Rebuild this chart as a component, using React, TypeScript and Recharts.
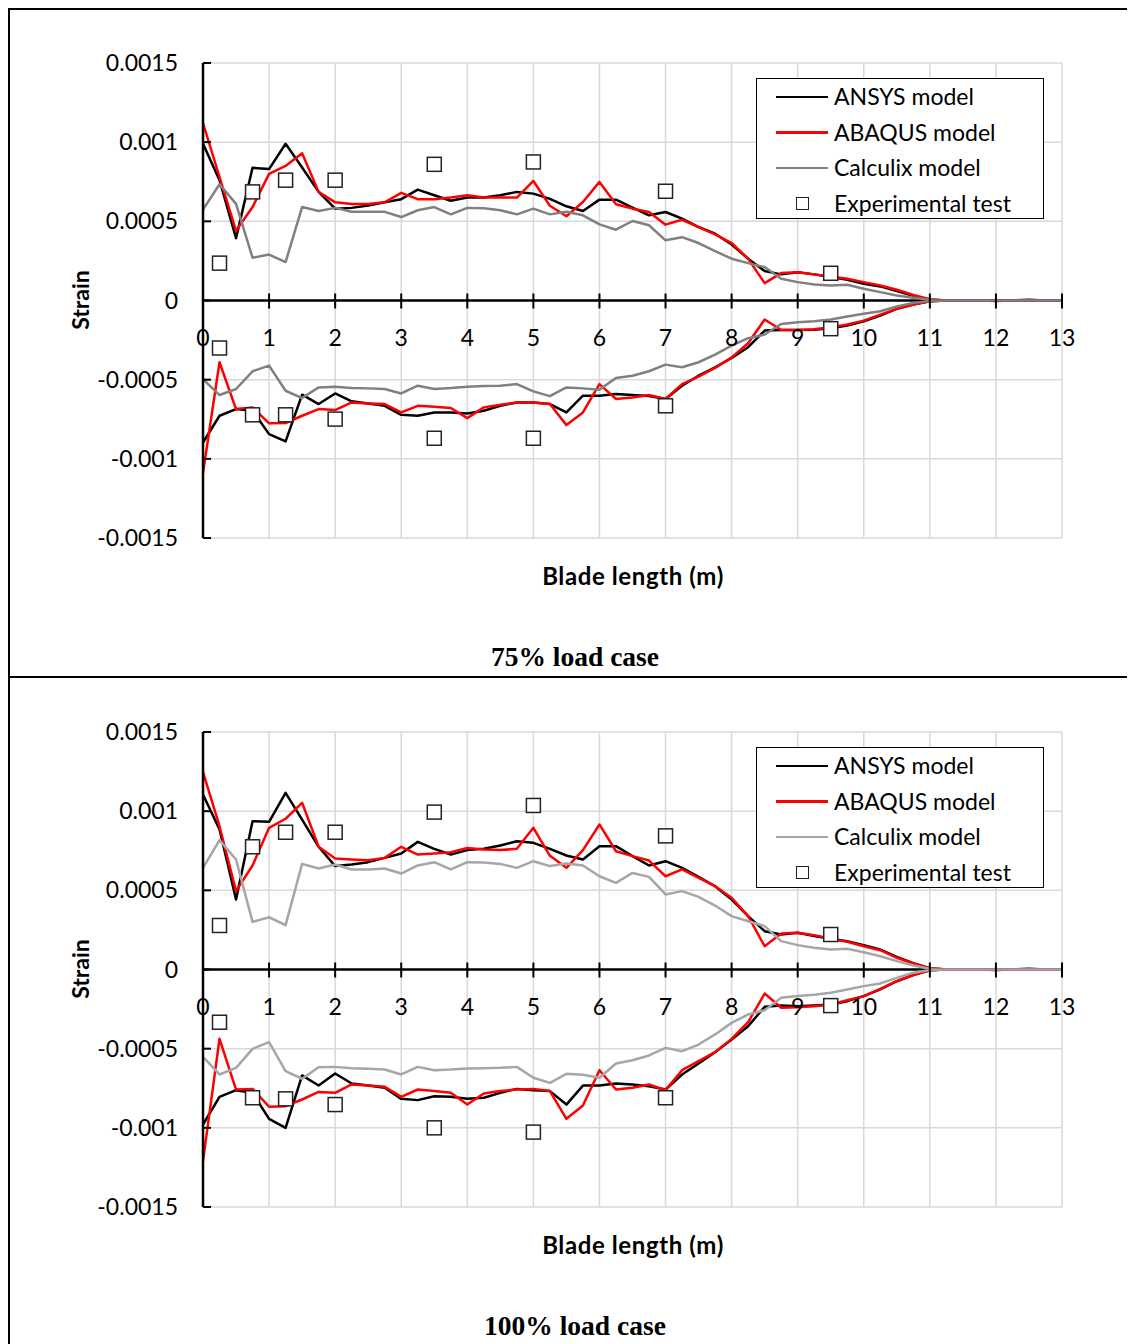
import React from 'react';
import {
  ComposedChart, Line, Scatter, XAxis, YAxis, CartesianGrid, ReferenceLine, Legend,
} from 'recharts';

// blade stations (m)
const xs = [
  0, 0.25, 0.5, 0.75, 1, 1.25, 1.5, 1.75, 2, 2.25, 2.5, 2.75, 3, 3.25, 3.5, 3.75, 4, 4.25,
  4.5, 4.75, 5, 5.25, 5.5, 5.75, 6, 6.25, 6.5, 6.75, 7, 7.25, 7.5, 7.75, 8, 8.25, 8.5, 8.75,
  9, 9.25, 9.5, 9.75, 10, 10.25, 10.5, 10.75, 11, 11.25, 11.5, 11.75, 12, 12.25, 12.5, 12.75, 13,
];

// strain values in microstrain, 75% load case
const ansys75Top = [
  990, 760, 394, 838, 830, 990, 840, 686, 580, 585, 600, 620, 640, 700, 665, 630, 650, 650,
  665, 686, 675, 642, 595, 565, 637, 637, 587, 538, 559, 517, 464, 422, 354, 264, 186, 165,
  179, 165, 148, 131, 106, 89, 59, 30, 5, 0, 0, 0, -3, 0, 4, 0, 0,
];
const abaqus75Top = [
  1120, 780, 440, 590, 800, 850, 930, 686, 620, 610, 610, 620, 680, 640, 640, 650, 665, 650,
  650, 650, 755, 598, 532, 622, 749, 608, 580, 559, 479, 510, 464, 418, 363, 264, 110, 173,
  179, 165, 152, 137, 116, 95, 68, 35, 8, 0, 0, 0, 0, 0, 0, 0, 0,
];
const calculix75Top = [
  574, 734, 610, 270, 290, 243, 590, 565, 585, 560, 560, 560, 527, 570, 590, 544, 585, 583,
  570, 544, 580, 544, 560, 538, 481, 447, 502, 475, 380, 400, 363, 312, 264, 236, 211, 137,
  116, 101, 95, 99, 74, 53, 32, 18, 5, 0, 0, 0, 0, 0, 0, 0, 0,
];
const ansys75Bottom = [
  -897, -728, -686, -696, -844, -890, -595, -654, -587, -637, -650, -665, -722, -728, -707, -707, -713, -696,
  -665, -644, -644, -654, -707, -601, -601, -590, -597, -603, -622, -538, -475, -422, -363, -295, -190, -186,
  -186, -184, -175, -158, -131, -95, -53, -25, -5, 0, 0, 0, 0, 0, 0, 0, 0,
];
const abaqus75Bottom = [
  -1090, -390, -686, -675, -776, -774, -728, -686, -692, -644, -650, -654, -707, -665, -671, -679, -743, -675,
  -658, -644, -644, -654, -787, -707, -528, -622, -612, -597, -622, -528, -481, -426, -359, -270, -120, -186,
  -186, -181, -169, -152, -127, -89, -53, -25, -5, 0, 0, 0, 0, 0, 0, 0, 0,
];
const calculix75Bottom = [
  -496, -597, -559, -447, -411, -570, -616, -549, -544, -553, -555, -559, -587, -538, -559, -553, -544, -540,
  -538, -528, -574, -604, -549, -555, -563, -490, -475, -447, -405, -422, -390, -342, -285, -238, -215, -148,
  -137, -131, -120, -101, -84, -68, -38, -15, -3, 0, 0, 0, 0, 0, 0, 0, 0,
];

// strain values in microstrain, 100% load case
const ansys100Top = [
  1105, 884, 442, 937, 933, 1116, 947, 775, 653, 663, 678, 705, 733, 806, 762, 726, 754, 762,
  783, 810, 800, 762, 720, 695, 779, 779, 716, 657, 684, 642, 585, 526, 442, 337, 242, 221,
  232, 211, 194, 179, 154, 126, 80, 40, 8, 0, 0, 0, -3, 0, 4, 0, 0,
];
const abaqus100Top = [
  1246, 905, 495, 657, 895, 952, 1053, 775, 701, 695, 690, 705, 775, 726, 733, 741, 768, 758,
  754, 762, 895, 718, 642, 754, 916, 747, 716, 688, 589, 632, 579, 526, 453, 337, 147, 227,
  232, 217, 194, 175, 147, 122, 74, 38, 8, 0, 0, 0, 0, 0, 0, 0, 0,
];
const calculix100Top = [
  642, 817, 695, 301, 330, 280, 667, 638, 663, 632, 632, 638, 606, 657, 678, 632, 678, 676,
  667, 642, 684, 653, 670, 657, 589, 547, 610, 585, 474, 495, 459, 404, 337, 305, 274, 179,
  154, 137, 126, 131, 109, 84, 53, 25, 5, 0, 0, 0, 0, 0, 0, 0, 0,
];
const ansys100Bottom = [
  -979, -804, -762, -779, -943, -1000, -669, -733, -657, -720, -733, -747, -817, -825, -800, -804, -817, -810,
  -779, -754, -762, -768, -853, -733, -733, -720, -726, -737, -758, -663, -594, -522, -442, -358, -236, -227,
  -232, -227, -221, -200, -168, -126, -74, -35, -5, 0, 0, 0, 0, 0, 0, 0, 0,
];
const abaqus100Bottom = [
  -1210, -438, -758, -754, -867, -863, -821, -773, -779, -726, -733, -741, -804, -758, -768, -779, -853, -783,
  -768, -758, -754, -768, -943, -859, -636, -758, -747, -726, -762, -636, -579, -522, -438, -333, -152, -242,
  -238, -232, -221, -194, -168, -122, -74, -35, -5, 0, 0, 0, 0, 0, 0, 0, 0,
];
const calculix100Bottom = [
  -552, -663, -621, -501, -459, -642, -690, -617, -615, -623, -627, -632, -663, -615, -636, -632, -625, -623,
  -621, -615, -684, -716, -659, -665, -684, -594, -573, -543, -495, -516, -474, -410, -337, -284, -257, -179,
  -168, -160, -147, -126, -105, -88, -53, -20, -3, 0, 0, 0, 0, 0, 0, 0, 0,
];

// experimental gauges
const expX = [0.25, 0.75, 1.25, 2, 3.5, 5, 7, 9.5];
const exp75Top = [236, 686, 760, 760, 860, 875, 690, 172];
const exp75Bottom = [-300, -722, -722, -749, -870, -870, -665, -178];
const exp100Top = [278, 775, 867, 867, 994, 1036, 844, 221];
const exp100Bottom = [-333, -810, -817, -853, -1000, -1027, -810, -228];

const xTicks = [0, 1, 2, 3, 4, 5, 6, 7, 8, 9, 10, 11, 12, 13];
const yTicks = [-1500, -1000, -500, 0, 500, 1000, 1500];
const yTickLabels = ['-0.0015', '-0.001', '-0.0005', '0', '0.0005', '0.001', '0.0015'];

const seriesNames = ['ANSYS model', 'ABAQUS model', 'Calculix model', 'Experimental test'];

const W = 1127;
const H = 669;
const M_TOP = 55;
const PLOT_H = 475;
const ZERO_Y = M_TOP + PLOT_H / 2;
const FONT = 'Lato, "Open Sans", sans-serif';

function XTick(props: any) {
  const { x, payload } = props;
  return (
    <g>
      <line x1={x} x2={x} y1={ZERO_Y - 7} y2={ZERO_Y + 8} stroke="#000" strokeWidth={2} />
      <text x={x} y={ZERO_Y + 36} textAnchor="middle" dominantBaseline="central" fontSize={23} fill="#000">
        {payload.value}
      </text>
    </g>
  );
}

function LegendBox(props: any) {
  const payload = (props.payload || [])
    .filter((e: any) => e.type !== 'none' && seriesNames.includes(e.value))
    .sort((a: any, b: any) => seriesNames.indexOf(a.value) - seriesNames.indexOf(b.value));
  return (
    <div style={{
      width: 288, height: 141, boxSizing: 'border-box', border: '1.5px solid #000',
      background: '#fff', fontFamily: FONT, fontSize: 23, color: '#000',
    }}>
      {payload.map((entry: any) => (
        <div key={entry.value} style={{ display: 'flex', alignItems: 'center', height: 35.5 }}>
          <div style={{ width: 52, marginLeft: 19, display: 'flex', justifyContent: 'center' }}>
            {entry.type === 'square'
              ? <div style={{ width: 13, height: 13, boxSizing: 'border-box', border: '1.5px solid #222', background: '#fff' }} />
              : <div style={{ width: 52, height: 2.5, background: entry.color }} />}
          </div>
          <span style={{ marginLeft: 6, lineHeight: 1 }}>{entry.value}</span>
        </div>
      ))}
    </div>
  );
}

type PanelProps = {
  top: number[][];
  bottom: number[][];
  expTop: number[];
  expBottom: number[];
  grey: string;
  caption: string;
};

function Panel({ top, bottom, expTop, expBottom, grey, caption }: PanelProps) {
  const rows = xs.map((x, i) => ({
    x,
    a1: top[0][i], b1: top[1][i], c1: top[2][i],
    a2: bottom[0][i], b2: bottom[1][i], c2: bottom[2][i],
  }));
  const exp = [
    ...expX.map((x, i) => ({ x, y: expTop[i] })),
    ...expX.map((x, i) => ({ x, y: expBottom[i] })),
  ];
  const colors = ['#000000', '#ff0000', grey];
  const centered: React.CSSProperties = {
    position: 'absolute', transform: 'translate(-50%, -50%)', whiteSpace: 'nowrap', lineHeight: 1,
  };
  return (
    <div style={{ position: 'relative', width: W, height: H }}>
      <ComposedChart width={W} height={H} data={rows} margin={{ top: M_TOP, right: 73, left: 0, bottom: 109 }}>
        <CartesianGrid stroke="#d9d9d9" strokeWidth={1.5} />
        <XAxis
          type="number" dataKey="x" domain={[0, 13]} ticks={xTicks} interval={0}
          axisLine={false} tickLine={false} tick={<XTick />} height={30}
        />
        <YAxis
          type="number" domain={[-1500, 1500]} ticks={yTicks} interval={0} width={195}
          axisLine={{ stroke: '#000', strokeWidth: 2.5 }}
          tickLine={{ stroke: '#000', strokeWidth: 2 }} tickSize={-8} tickMargin={33}
          tick={{ fill: '#000', fontSize: 23 }}
          tickFormatter={(v: number) => yTickLabels[yTicks.indexOf(v)]}
        />
        <ReferenceLine y={0} stroke="#000" strokeWidth={2.5} />
        <Line dataKey="a1" name={seriesNames[0]} stroke={colors[0]} strokeWidth={2.5} dot={false} isAnimationActive={false} strokeLinejoin="round" />
        <Line dataKey="b1" name={seriesNames[1]} stroke={colors[1]} strokeWidth={2.5} dot={false} isAnimationActive={false} strokeLinejoin="round" />
        <Line dataKey="c1" name={seriesNames[2]} stroke={colors[2]} strokeWidth={2.5} dot={false} isAnimationActive={false} strokeLinejoin="round" />
        <Line dataKey="a2" name="ansys-compression" stroke={colors[0]} strokeWidth={2.5} dot={false} isAnimationActive={false} strokeLinejoin="round" legendType="none" />
        <Line dataKey="b2" name="abaqus-compression" stroke={colors[1]} strokeWidth={2.5} dot={false} isAnimationActive={false} strokeLinejoin="round" legendType="none" />
        <Line dataKey="c2" name="calculix-compression" stroke={colors[2]} strokeWidth={2.5} dot={false} isAnimationActive={false} strokeLinejoin="round" legendType="none" />
        <Scatter
          data={exp} dataKey="y" name={seriesNames[3]} legendType="square" fill="#fff" isAnimationActive={false}
          shape={(p: any) => (
            <rect x={p.cx - 7} y={p.cy - 7} width={14} height={14} fill="#fff" stroke="#222" strokeWidth={1.5} />
          )}
        />
        <Legend
          layout="vertical" align="center" verticalAlign="middle" content={<LegendBox />}
          wrapperStyle={{ left: 748, top: 70, width: 288, height: 141 }}
        />
      </ComposedChart>
      <div style={{ ...centered, left: 72, top: 292, transform: 'translate(-50%, -50%) rotate(-90deg)', fontWeight: 700, fontSize: 23 }}>
        Strain
      </div>
      <div style={{ ...centered, left: 625, top: 568, fontWeight: 700, fontSize: 24, letterSpacing: 0.6 }}>
        Blade length (m)
      </div>
      <div style={{ ...centered, left: 567, top: 649, fontFamily: '"Liberation Serif", serif', fontWeight: 700, fontSize: 27.5 }}>
        {caption}
      </div>
    </div>
  );
}

export default function App() {
  return (
    <div style={{ position: 'relative', width: W, height: 1338, fontFamily: FONT, color: '#000', overflow: 'hidden' }}>
      <Panel
        top={[ansys75Top, abaqus75Top, calculix75Top]}
        bottom={[ansys75Bottom, abaqus75Bottom, calculix75Bottom]}
        expTop={exp75Top} expBottom={exp75Bottom} grey="#808080" caption="75% load case"
      />
      <Panel
        top={[ansys100Top, abaqus100Top, calculix100Top]}
        bottom={[ansys100Bottom, abaqus100Bottom, calculix100Bottom]}
        expTop={exp100Top} expBottom={exp100Bottom} grey="#a6a6a6" caption="100% load case"
      />
      <div style={{ position: 'absolute', left: 0, top: 0, width: 2, height: 1338, background: '#000' }} />
      <div style={{ position: 'absolute', left: 0, top: 0, width: W, height: 2, background: '#000' }} />
      <div style={{ position: 'absolute', left: 0, top: 668, width: W, height: 2, background: '#000' }} />
    </div>
  );
}
